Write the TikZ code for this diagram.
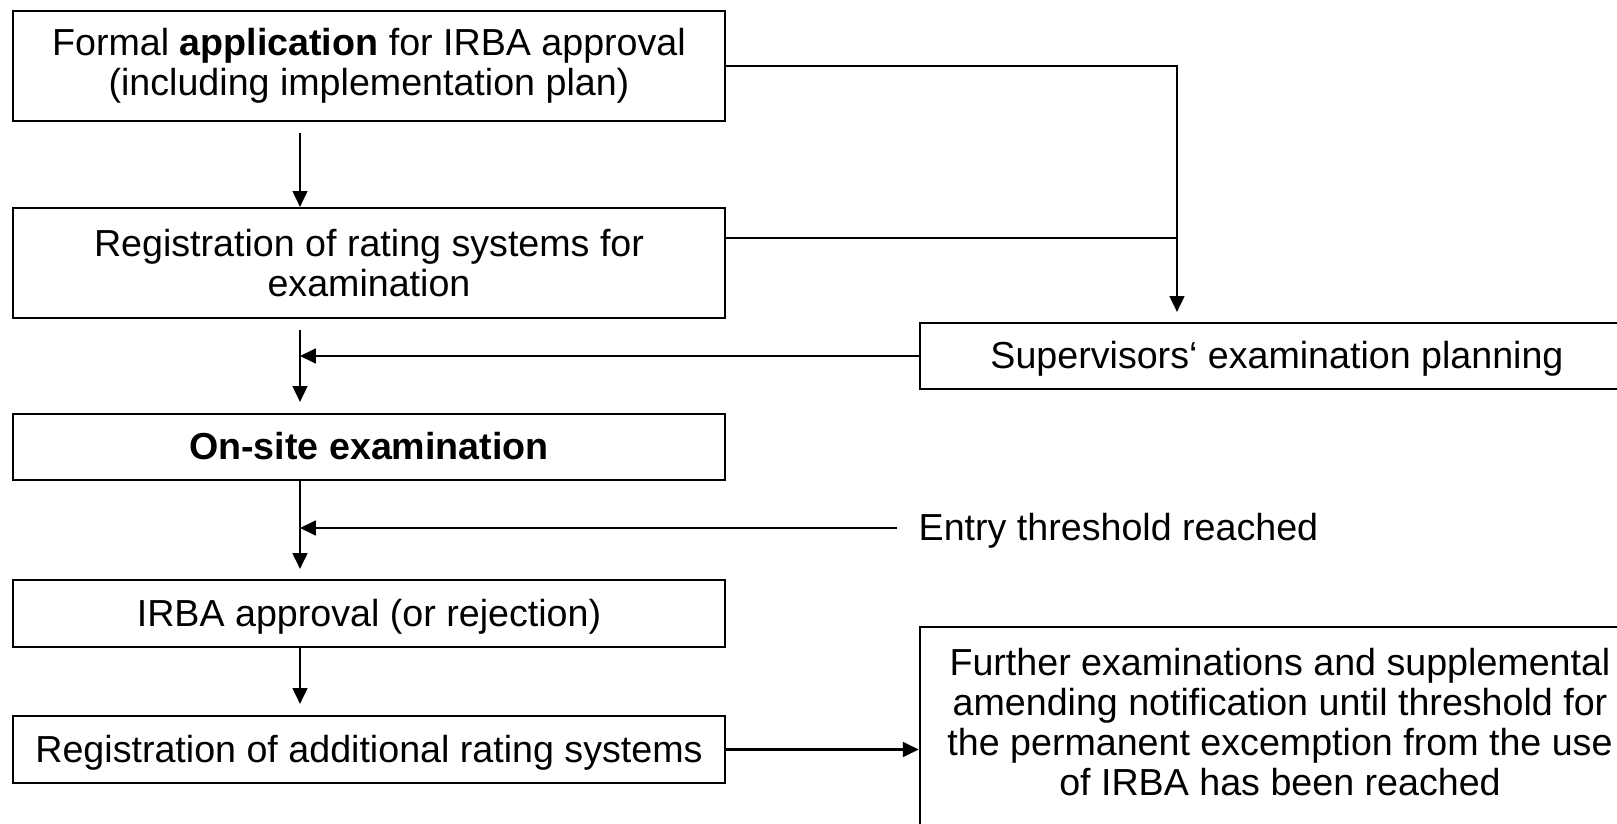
\documentclass[tikz,border=0pt]{standalone}
\usepackage{fontspec}
\setmainfont{Liberation Sans}
\usetikzlibrary{arrows.meta}

\tikzset{
    flowbox/.style={draw, line width=0.6pt, align=center, inner sep=0pt,
                    font=\fontsize{10.7pt}{11.4pt}\selectfont},
    oneline/.style={text height=0.72em, text depth=0pt},
    stagebox/.style={flowbox, minimum width=7.12cm},
    arr/.style={line width=0.6pt, -{Triangle[length=4.5pt,width=4.2pt]}},
    line/.style={line width=0.6pt}
}

\begin{document}
\begin{tikzpicture}[x=0.01cm, y=-0.01cm]
            \useasboundingbox (0,0) rectangle (1617,824);
            % left column of stages
            \node[stagebox, minimum height=1.10cm] (app) at (369,66)
                {Formal \textbf{application} for IRBA approval\\(including implementation plan)};
            \node[stagebox, minimum height=1.10cm] (reg) at (369,263)
                {Registration of rating systems for\\examination};
            \node[stagebox, oneline, minimum height=0.66cm] (onsite) at (369,447)
                {\textbf{On-site examination}};
            \node[stagebox, oneline, minimum height=0.67cm] (appr) at (369,613.5)
                {IRBA approval (or rejection)};
            \node[stagebox, oneline, minimum height=0.67cm] (addl) at (369,749.5)
                {Registration of additional rating systems};
            % right side
            \node[flowbox, oneline, minimum width=7.14cm, minimum height=0.66cm] (sup) at (1277,356)
                {Supervisors‘ examination planning};
            \node[font=\fontsize{10.7pt}{11.4pt}\selectfont, oneline, anchor=west, inner xsep=0.21cm, inner ysep=0pt] (entry) at (897,528)
                {Entry threshold reached};
            \node[flowbox, minimum width=7.2cm, minimum height=2.04cm] (further) at (1280,729) {};
            \node[align=center, inner sep=0pt, font=\fontsize{10.7pt}{11.4pt}\selectfont] (furthertext) at ([yshift=0.07cm]further.center)
                {Further examinations and supplemental\\amending notification until threshold for\\the permanent excemption from the use\\of IRBA has been reached};

            \coordinate (col) at (300,0);
            \coordinate (merge) at (1177,238);

            \draw[arr, shorten <=1.1mm] (app.south -| col) -- (reg.north -| col);
            \draw[arr, shorten <=1.1mm, shorten >=1.1mm] (reg.south -| col) -- (onsite.north -| col);
            \draw[arr, shorten >=1mm] (onsite.south -| col) -- (appr.north -| col);
            \draw[arr, shorten >=1.1mm] (appr.south -| col) -- (addl.north -| col);

            \draw[arr, shorten >=1mm] (app.east) -| (merge) -- (merge |- sup.north);
            \draw[line] (reg.east |- merge) -- (merge);
            \draw[arr] (sup.west) -- (sup.west -| col);
            \draw[arr] (entry.west) -- (entry.west -| col);
            \draw[arr] (addl.east) -- (addl.east -| further.west);
        \end{tikzpicture}
\end{document}
